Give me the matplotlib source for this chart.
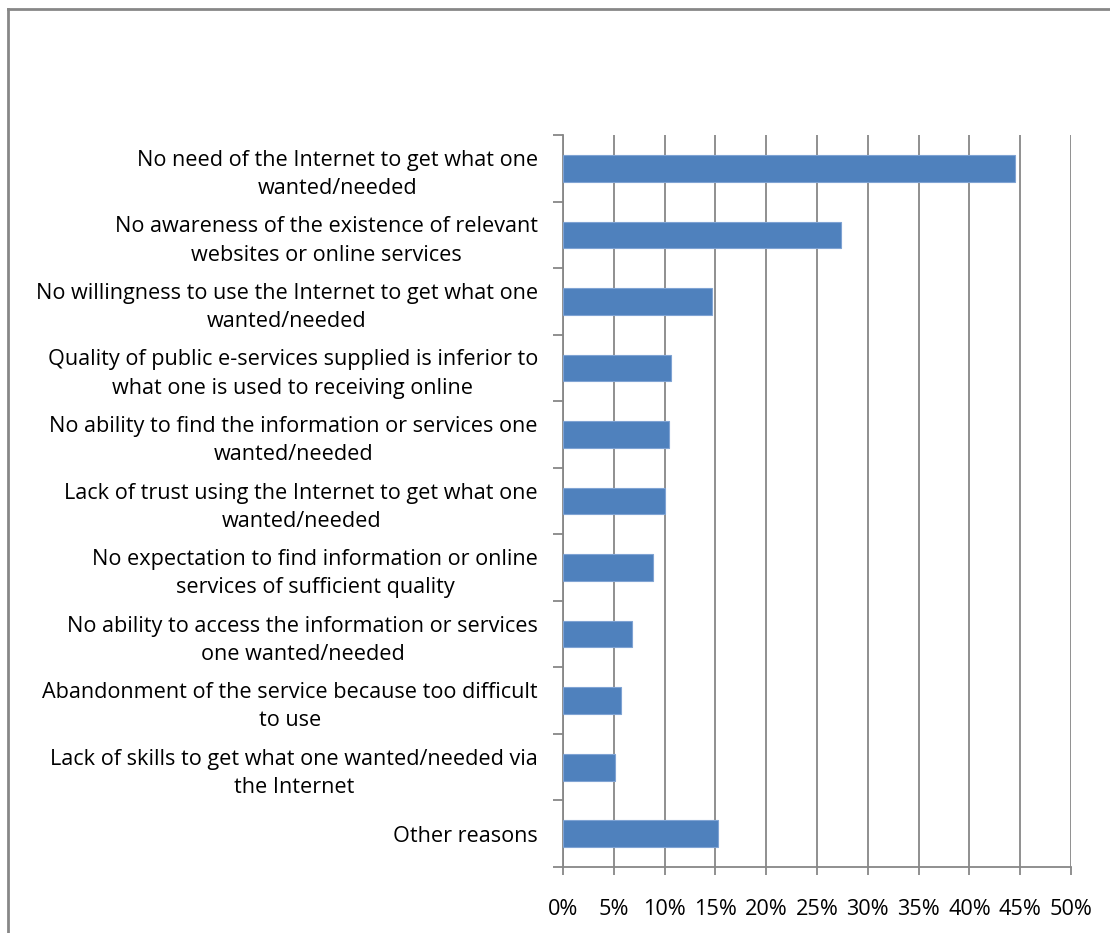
import matplotlib
matplotlib.use("Agg")
import matplotlib.pyplot as plt
from matplotlib.lines import Line2D
from matplotlib.ticker import FixedLocator, PercentFormatter

# reasons for not using e-government services (share of respondents, %)
reasons = [
    "No need of the Internet to get what one\nwanted/needed",
    "No awareness of the existence of relevant\nwebsites or online services",
    "No willingness to use the Internet to get what one\nwanted/needed",
    "Quality of public e-services supplied is inferior to\nwhat one is used to receiving online",
    "No ability to find the information or services one\nwanted/needed",
    "Lack of trust using the Internet to get what one\nwanted/needed",
    "No expectation to find information or online\nservices of sufficient quality",
    "No ability to access the information or services\none wanted/needed",
    "Abandonment of the service because too difficult\nto use",
    "Lack of skills to get what one wanted/needed via\nthe Internet",
    "Other reasons",
]
shares = [44.5, 27.4, 14.7, 10.6, 10.4, 10.0, 8.9, 6.8, 5.7, 5.1, 15.3]
x_ticks = [0, 5, 10, 15, 20, 25, 30, 35, 40, 45, 50]

plt.rcParams["font.family"] = ["Open Sans", "DejaVu Sans"]

GREY = "#878787"
BAR = "#4F81BD"
FS = 15.6

fig = plt.figure(figsize=(11.1, 9.33), dpi=100, facecolor="white")
ax = fig.add_axes([0.5072, 0.0707, 0.4577, 0.7846])

ypos = list(range(len(reasons)))
ax.barh(ypos, shares, height=0.4, color=BAR, edgecolor="#7FA3D3",
        linewidth=0.8, zorder=3)

ax.set_xlim(0, 50)
ax.set_ylim(len(reasons) - 0.5, -0.5)

# x axis: percent ticks with vertical gridlines
ax.xaxis.set_major_locator(FixedLocator(x_ticks))
ax.xaxis.set_major_formatter(PercentFormatter(decimals=0))
ax.grid(axis="x", color=GREY, linewidth=1.3, zorder=0)
ax.tick_params(axis="x", direction="out", length=6, width=1.3, color=GREY,
               labelsize=FS, pad=17, labelcolor="black")

# y axis: labels at category centres, ticks at category boundaries
ax.set_yticks(ypos)
ax.set_yticklabels(reasons, fontsize=FS, multialignment="center",
                   linespacing=1.45)
ax.set_yticks([i - 0.5 for i in range(len(reasons) + 1)], minor=True)
ax.tick_params(axis="y", which="major", length=0, pad=18)
ax.tick_params(axis="y", which="minor", direction="out", length=7,
               width=1.3, color=GREY)

for side in ("top", "right"):
    ax.spines[side].set_visible(False)
for side in ("left", "bottom"):
    ax.spines[side].set_color(GREY)
    ax.spines[side].set_linewidth(1.3)
ax.set_axisbelow(True)

# chart-area frame along the top and left edges
W, H = 1110, 933
fig.add_artist(Line2D([8 / W, 1.0], [1 - 9 / H, 1 - 9 / H],
                      transform=fig.transFigure, color=GREY, linewidth=2))
fig.add_artist(Line2D([8 / W, 8 / W], [0.0, 1 - 9 / H],
                      transform=fig.transFigure, color=GREY, linewidth=2))

fig.savefig("out.png", dpi=100, facecolor="white")
